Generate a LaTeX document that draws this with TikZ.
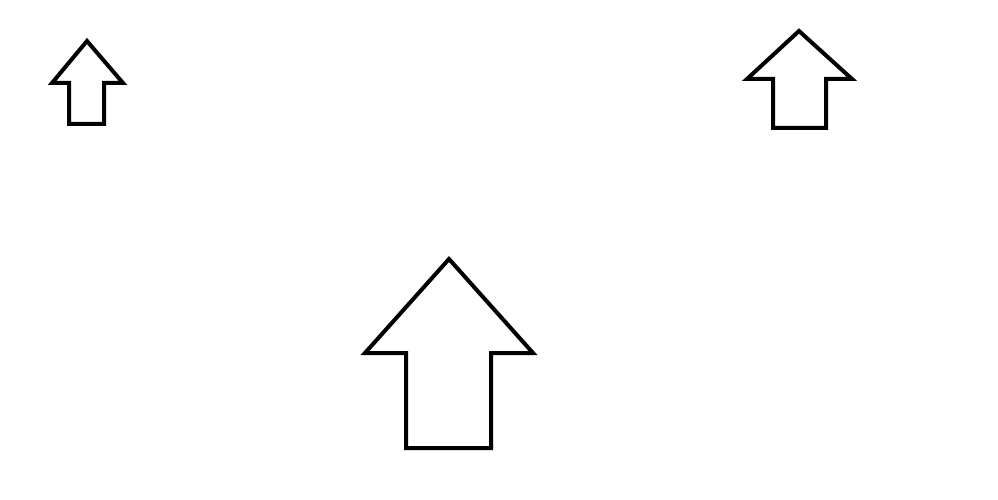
\documentclass[tikz,border=0pt]{standalone}
\begin{document}
\begin{tikzpicture}[x=1pt,y=-1pt,
  arrowoutline/.style={draw=black,line width=4pt,line join=miter,fill=white}]
\useasboundingbox[fill=white] (0,0) rectangle (998,500);
% small arrow, top left
\draw[arrowoutline] (87,41) -- (123,83) -- (104,83) -- (104,124) -- (69,124) -- (69,83) -- (52,83) -- cycle;
% medium arrow, top right
\draw[arrowoutline] (799,31) -- (852,79) -- (826,79) -- (826,128) -- (773,128) -- (773,79) -- (747,79) -- cycle;
% large arrow, bottom centre
\draw[arrowoutline] (449,259) -- (533,353) -- (491,353) -- (491,448) -- (406,448) -- (406,353) -- (365,353) -- cycle;
\end{tikzpicture}
\end{document}
